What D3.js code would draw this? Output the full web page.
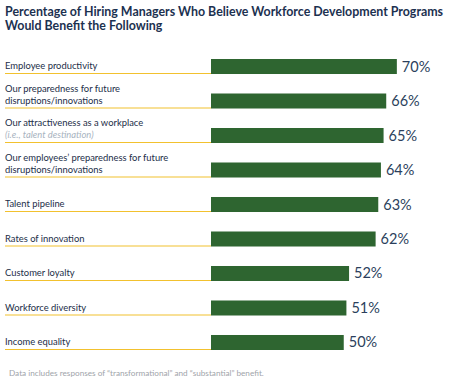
<!DOCTYPE html>
<html><head><meta charset="utf-8">
<script src="https://cdn.jsdelivr.net/npm/d3@7"></script>
<style>body{margin:0;background:#fff;}svg{display:block;}</style>
</head><body>
<svg id="c" width="459" height="380"></svg>
<script>
const categories = [
  ["Employee productivity"],
  ["Our preparedness for future", "disruptions/innovations"],
  ["Our attractiveness as a workplace", "(i.e., talent destination)"],
  ["Our employees\u2019 preparedness for future", "disruptions/innovations"],
  ["Talent pipeline"],
  ["Rates of innovation"],
  ["Customer loyalty"],
  ["Workforce diversity"],
  ["Income equality"]
];
const values = [70, 66, 65, 64, 63, 62, 52, 51, 50];
const titleLines = ["Percentage of Hiring Managers Who Believe Workforce Development Programs", "Would Benefit the Following"];
const footnote = "Data includes responses of \u201ctransformational\u201d and \u201csubstantial\u201d benefit.";

const svg = d3.select("#c");
const font = "Lato, 'Open Sans', sans-serif";

svg.append("g").selectAll("text").data(titleLines).join("text")
  .attr("x", 5).attr("y", (d,i) => 16 + i*14)
  .attr("font-family", font).attr("font-size", 12.4).attr("font-weight", 700)
  .attr("fill", "#1c3150").text(d => d);

const x = d3.scaleLinear().domain([0, 100]).range([211, 211 + 265.5]);
const y = d3.scaleBand().domain(d3.range(values.length)).range([59, 350]).paddingInner(0.565).paddingOuter(0);

const rows = svg.append("g").selectAll("g").data(values).join("g");

rows.append("line")
  .attr("x1", 5).attr("x2", x(0))
  .attr("y1", (d,i) => y(i) + y.bandwidth() - 0.5)
  .attr("y2", (d,i) => y(i) + y.bandwidth() - 0.5)
  .attr("stroke", "#f2c12e").attr("stroke-width", 1.2);

rows.append("rect")
  .attr("x", x(0)).attr("y", (d,i) => y(i))
  .attr("width", d => x(d) - x(0)).attr("height", y.bandwidth())
  .attr("fill", "#2e6530");

rows.append("text")
  .attr("x", d => x(d) + 5).attr("y", (d,i) => y(i) + y.bandwidth()/2 + 5)
  .attr("font-family", font).attr("font-size", 14.5)
  .attr("fill", "#2b3f5c").text(d => d + "%");

rows.each(function(d, i) {
  const lines = categories[i];
  const g = d3.select(this);
  const base = y(i) + y.bandwidth() - 5;
  lines.forEach((ln, j) => {
    const italic = ln.startsWith("(");
    g.append("text")
      .attr("x", 5).attr("y", base - (lines.length - 1 - j) * 12)
      .attr("font-family", font).attr("font-size", 9.4)
      .attr("font-style", italic ? "italic" : "normal")
      .attr("fill", italic ? "#a8b3c0" : "#1c2e48")
      .text(ln);
  });
});

svg.append("text").attr("x", 9).attr("y", 376)
  .attr("font-family", font).attr("font-size", 8.2).attr("fill", "#a0a4aa").text(footnote);
</script>
</body></html>
